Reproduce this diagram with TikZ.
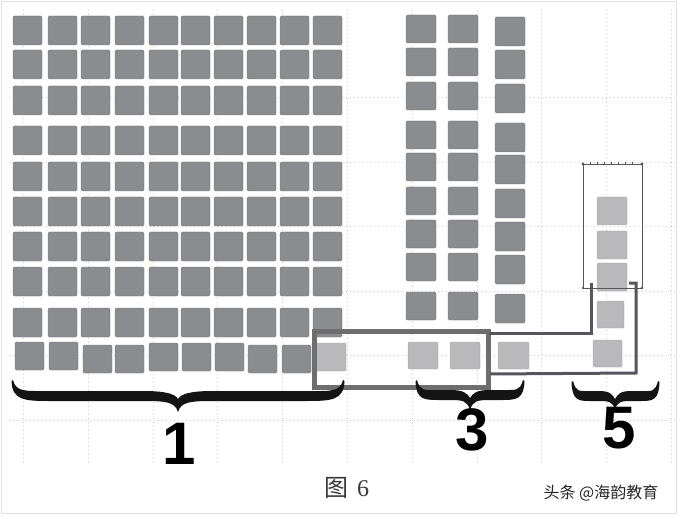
\documentclass[tikz,border=0pt]{standalone}
\usepackage{fontspec}
\setmainfont{Liberation Sans}
\newfontfamily\cjk{Noto Sans CJK SC}
\newfontfamily\serifnum{Liberation Serif}
\usepackage{tikz}
\usetikzlibrary{calc}
\definecolor{sqdark}{HTML}{8B8C90}
\definecolor{sqlight}{HTML}{B9B9BB}
\definecolor{framegray}{HTML}{6E6E71}
\definecolor{linkgray}{HTML}{55555D}
\definecolor{gridgray}{HTML}{C8C8CC}
\tikzset{
	darksq/.style={fill=sqdark, draw=sqdark!80!black, line width=0.4pt, rounded corners=1.5pt},
	lightsq/.style={fill=sqlight, draw=sqlight!90!black, line width=0.3pt, rounded corners=1pt},
	gridline/.style={gridgray, line width=0.7pt, dash pattern=on 1pt off 3pt},
	bignum/.style={font=\fontsize{60}{60}\selectfont\bfseries, inner sep=0pt},
}
\def\fatbrace(#1:#2:#3)(#4:#5:#6)[#7]{\fill[black!92] (#1,#4) .. controls ({#1+3},{#5-4}) and ({#1+#7/3},{#5-5}) .. ({#1+#7},{#5-5}) -- ({#2-#7},{#5-5}) .. controls ({#2-#7/3},{#5-5}) and ({#2-3},{#5-2}) .. (#2,{#5+3}) .. controls ({#2+3},{#5-2}) and ({#2+#7/3},{#5-5}) .. ({#2+#7},{#5-5}) -- ({#3-#7},{#5-5}) .. controls ({#3-#7/3},{#5-5}) and ({#3-3},{#5-4}) .. (#3,#4) -- ({#3+1.5},{#4+1}) .. controls ({#3+1},{#5+4}) and ({#3-#7/3},{#5+5}) .. ({#3-#7},{#5+5}) -- ({#2+#7},{#5+5}) .. controls ({#2+#7/3},{#5+5}) and ({#2+3},{#5+6}) .. (#2,#6) .. controls ({#2-3},{#5+6}) and ({#2-#7/3},{#5+5}) .. ({#2-#7},{#5+5}) -- ({#1+#7},{#5+5}) .. controls ({#1+#7/3},{#5+5}) and ({#1-1},{#5+4}) .. ({#1-1.5},{#4+1}) -- cycle;}

\begin{document}
\begin{tikzpicture}[x=1pt, y=-1pt]
		%%%%% START %%%%%
		\useasboundingbox (0,0) rectangle (678,516);
		\draw[black!12, line width=0.6pt] (1.5,1.5) rectangle (676.5,513);
		
		% dotted grid
		\foreach \gx in {23,88,153,217,282,347,412,477,541,606,671}
			\draw[gridline] (\gx,10) -- (\gx,465);
		\foreach \gy in {97,162,226,291,355,420}
			\draw[gridline] (10,\gy) -- (675,\gy);
		
		% group 1
		\foreach \y in {16,50,86,126,162,197,232,267,308}
			\foreach \x in {13,48,81,115,149,181,214,247,280,313}
				\draw[darksq] (\x,\y) rectangle ++(29,29);
		\foreach \x/\y in {15/342,49/342,83/345,115/345,149/343,182/343,215/343,248/345,282/345}
			\draw[darksq] (\x,\y) rectangle ++(29,28);
		\draw[lightsq] (316,343) rectangle ++(30,28);
		
		% group 3
		\foreach \y in {15,48,82,121,153,187,220,253,292} {
			\draw[darksq] (406,\y) rectangle ++(30,28);
			\draw[darksq] (448,\y) rectangle ++(30,28);
			\draw[darksq] (495,{\y+2}) rectangle ++(30,29);
		}
		\draw[lightsq] (408,342) rectangle ++(30,27);
		\draw[lightsq] (450,342) rectangle ++(30,27);
		\draw[lightsq] (498,342) rectangle ++(31,27);
		
		% group 5
		\foreach \y in {197,231,263}
			\draw[lightsq] (597,\y) rectangle ++(30,28);
		\draw[lightsq] (597,301) rectangle ++(27,27);
		\draw[lightsq] (593,340) rectangle ++(29,27);
		
		% thin selection box
		\draw[linkgray, line width=0.6pt] (583,164) rectangle (642,288);
		\foreach \x in {590,597,...,636}
			\draw[linkgray, line width=0.4pt] (\x,164) -- (\x,162);
		\fill[linkgray] (583,164) circle (1.6) (642,164) circle (1.6) (583,288) circle (1.4) (642,288) circle (1.4);
		
		% thick frame and link
		\draw[framegray, line width=5pt] (314,331) rectangle (488,387);
		\draw[linkgray, line width=3pt] (489,333) -- (591,333) -- (591,283);
		\draw[linkgray, line width=3pt] (629,283) -- (636,283) -- (636,373) -- (490,374);
		
		% braces
		\fatbrace(13:178:343)(380:396:412)[35]
		\fatbrace(417:470:523)(380:395:410)[20]
		\fatbrace(573:615:658)(381:396:409)[16]
		
		\node[bignum] (one) at (179,443.5) {1};
		\node[bignum] (three) at (472,429.5) {3};
		\node[bignum] (five) at (619,428.5) {5};
		
		\node[black!78, font=\fontsize{24}{24}\selectfont] (cap) at (347,488) {\cjk 图\hspace{0.35em}\serifnum 6};
		\node[black!85, font=\fontsize{16}{16}\selectfont] (mark) at (601,493) {\cjk 头条 @海韵教育};
		%%%%% END %%%%%
\end{tikzpicture}
\end{document}
